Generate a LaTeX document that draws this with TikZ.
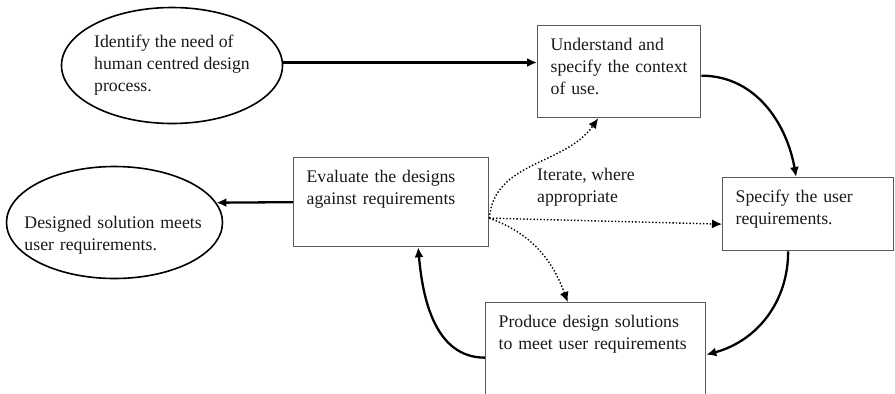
\documentclass[tikz,border=0pt]{standalone}
\usepackage{fontspec}
\setmainfont{Liberation Serif}
\usetikzlibrary{arrows.meta,shapes.geometric,calc}

\begin{document}
\begin{tikzpicture}[x=1bp,y=-1bp,
    txt/.style={font=\fontsize{17.8}{22}\selectfont, text=black!90},
    box/.style={txt, draw=black!65, line width=1.3bp, anchor=north west, align=left,
        inner xsep=13bp, inner ysep=9bp, text height=16bp},
    oval/.style={txt, draw, ellipse, line width=1.6bp, inner sep=0pt, align=left},
    flow/.style={line width=2.3bp, -{Latex[length=10bp,width=9bp]}},
    iter/.style={line width=1.4bp, dotted, -{Latex[length=10bp,width=9bp]}}]
        \clip (0,0) rectangle (895,393);

        \node[oval, minimum width=221bp, minimum height=116bp] (need) at (172,65.5)
            {Identify the need of\\human centred design\\process.};
        \node[oval, minimum width=216bp, minimum height=112bp, text width=180bp,
            inner xsep=-20bp, text height=37bp] (done) at (114.5,222.5)
            {Designed solution meets\\user requirements.};

        \node[box, text width=137bp, text depth=58bp] (ctx) at (537,25)
            {Understand and\\specify the context\\of use.};
        \node[box, text width=145bp, text depth=39bp] (usr) at (722,177)
            {Specify the user\\requirements.};
        \node[box, text width=169bp, text depth=55bp] (evl) at (293,157)
            {Evaluate the designs\\against requirements};
        \node[box, text width=194bp, text depth=64bp] (prd) at (485,302)
            {Produce design solutions\\to meet user requirements};
        \node[txt, anchor=north west, align=left, inner sep=0pt] (note) at (537,168)
            {Iterate, where\\appropriate};

        \draw[flow] ([yshift=3bp]need.east) -- ([yshift=3bp]need.east -| ctx.west);
        \draw[flow] ([yshift=-4bp]ctx.east) to[out=0,in=100] ([xshift=-12bp]usr.north);
        \draw[flow] ([xshift=-20bp]usr.south) to[out=-90,in=15] ([yshift=-3bp]prd.east);
        \draw[flow] ([yshift=-6bp]prd.west) to[out=180,in=-85] ([xshift=27bp]evl.south);
        \draw[flow] (evl.west) -- (done.11);

        \draw[iter] ([yshift=-16bp]evl.east) to[out=85,in=-125] ([xshift=-21bp]ctx.south);
        \draw[iter] ([yshift=-16bp]evl.east) -- ([yshift=-10bp]usr.west);
        \draw[iter] ([yshift=-16bp]evl.east) to[out=-20,in=110] ([xshift=-28bp]prd.north);
    \end{tikzpicture}
\end{document}
